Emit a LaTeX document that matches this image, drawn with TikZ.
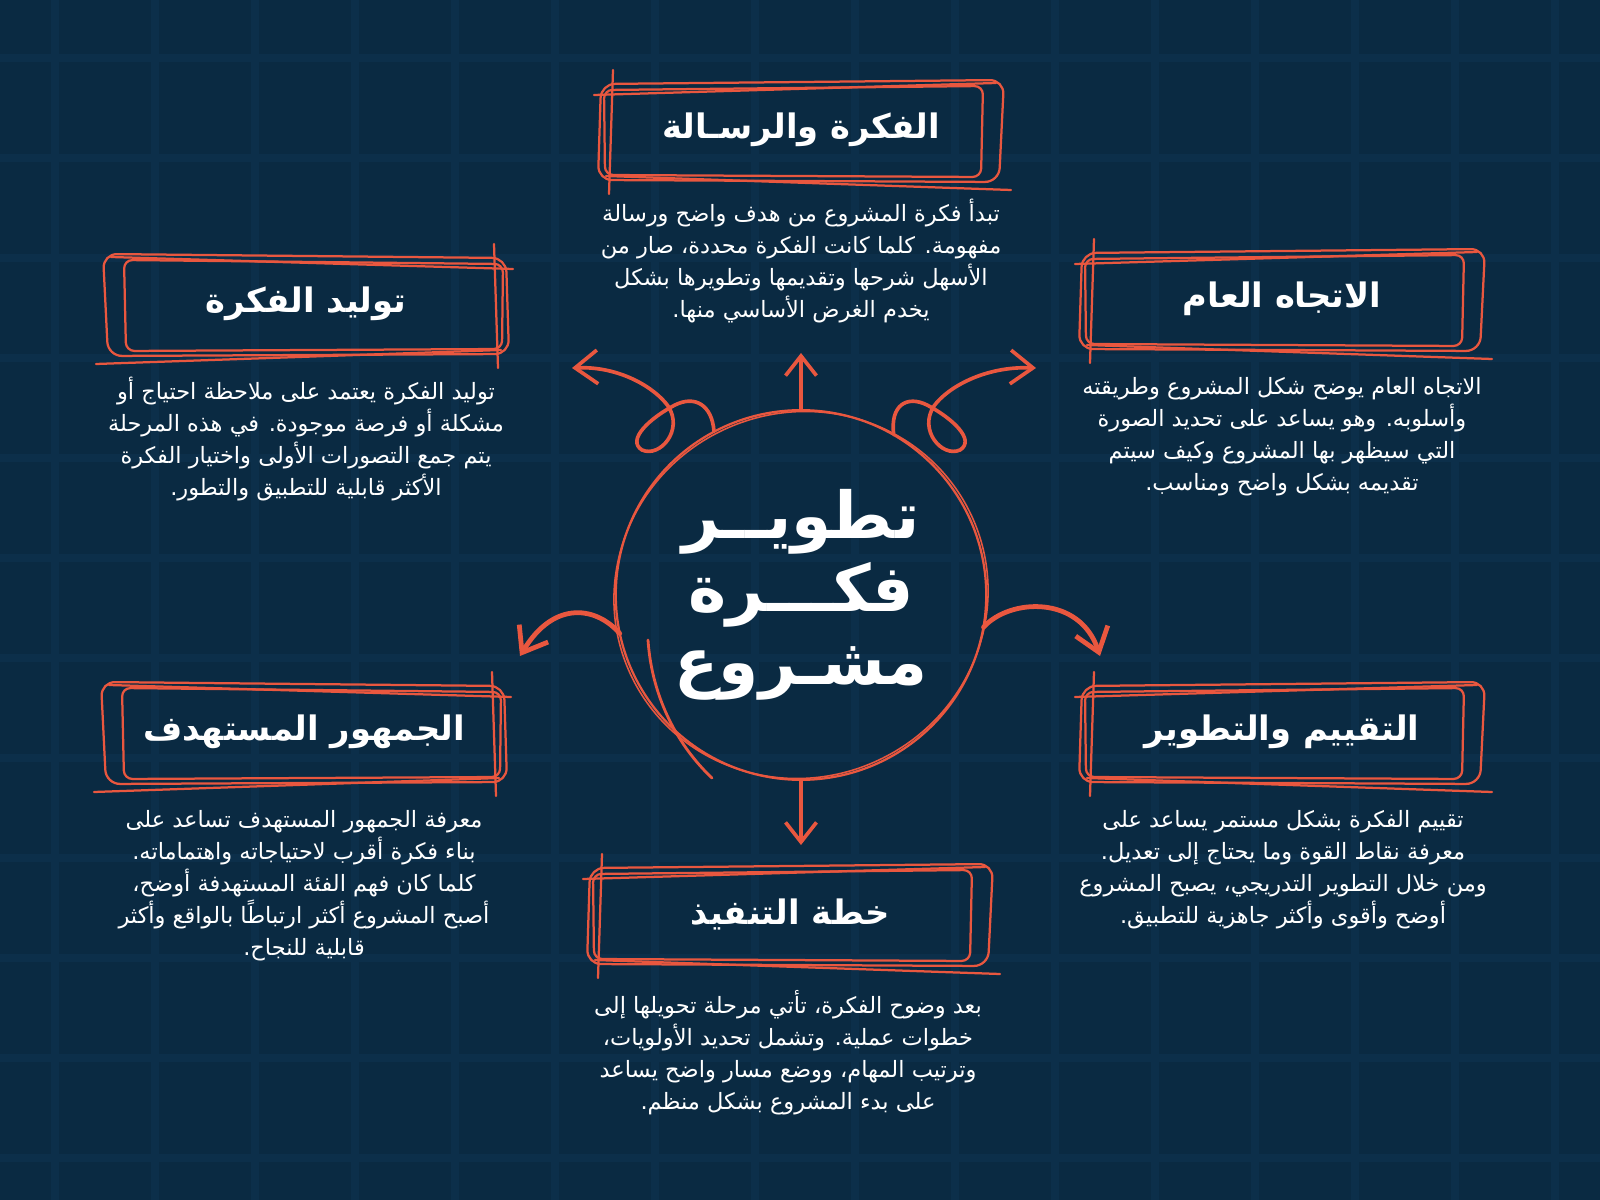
\documentclass[tikz,border=0pt]{standalone}
\usepackage{fontspec}
\newfontfamily\arabicfont[Script=Arabic]{DejaVu Sans}
\TeXXeTstate=1
\usetikzlibrary{arrows.meta}
\definecolor{navy}{HTML}{0A2A42}
\definecolor{gridline}{HTML}{0C2F4A}
\definecolor{coral}{HTML}{E9573F}
\newcommand{\ar}[1]{\beginR #1\endR}

\begin{document}
\begin{tikzpicture}[x=0.025cm,y=-0.025cm]
      \tikzstyle{hdr}=[text=white,font=\arabicfont\bfseries\fontsize{24}{28}\selectfont]
      \tikzstyle{body}=[text=white,align=center,anchor=north,inner sep=0pt,font=\arabicfont\fontsize{16}{22.8}\selectfont]
      \tikzstyle{hubnode}=[circle,minimum size=9.25cm,inner sep=0pt,text=white,align=center,font=\arabicfont\bfseries\fontsize{46}{52}\selectfont]
      \tikzstyle{sketch}=[draw=coral,line width=1.6pt,line cap=round,line join=round]
      \tikzstyle{curl}=[draw=coral,line width=2.6pt,line cap=round,-{Straight Barb[length=16pt,width=24pt]}]

      % background grid
      \useasboundingbox (0,0) rectangle (1600,1200);
      \fill[navy] (0,0) rectangle (1600,1200);
      \foreach \x in {55,155,...,1555} \draw[gridline,line width=5pt] (\x,0) -- (\x,1200);
      \foreach \y in {58,158,...,1158} \draw[gridline,line width=5pt] (0,\y) -- (1600,\y);

      % centre
      \node[hubnode](hub) at (801,595) {\ar{تطويــر}\\\ar{فكـــرة}\\\ar{مشـروع}};
      \draw[sketch] (hub.center) ellipse [x radius=4.63cm, y radius=4.62cm];
      \draw[sketch,line width=1.1pt,rotate around={25:(hub.center)}] (hub.center) ellipse [x radius=4.70cm, y radius=4.56cm];
      \draw[sketch,line width=2pt] (648,640) .. controls (652,700) and (680,748) .. (712,778);

      % headers
      \node[hdr](idea) at (801,130) {\ar{الفكرة والرسـالة}};
      \node[hdr](gen) at (306,304) {\ar{توليد الفكرة}};
      \node[hdr](dir) at (1282,299) {\ar{الاتجاه العام}};
      \node[hdr](aud) at (304,732) {\ar{الجمهور المستهدف}};
      \node[hdr](eval) at (1282,732) {\ar{التقييم والتطوير}};
      \node[hdr](plan) at (790,914) {\ar{خطة التنفيذ}};

      % sketchy frames
      \foreach \b/\f in {idea/-1,gen/1,dir/-1,aud/1,eval/-1,plan/-1}{
        \begin{scope}[shift={(\b)},xscale=\f]
          \draw[sketch,rounded corners=10] (-203,-50) -- (200,-46) -- (203,50) -- (-198,52) -- cycle;
          \draw[sketch,rounded corners=6] (-182,-44) -- (197,-40) -- (196,45) -- (-180,47) -- cycle;
          \draw[sketch] (-195,-47) -- (207,-35);
          \draw[sketch] (188,-60) -- (192,64);
          \draw[sketch] (-210,60) -- (195,46);
        \end{scope}
      }

      % texts
      \node[body](ideatxt) at (801,199) {\ar{تبدأ فكرة المشروع من هدف واضح ورسالة}\\\ar{مفهومة. كلما كانت الفكرة محددة، صار من}\\\ar{الأسهل شرحها وتقديمها وتطويرها بشكل}\\\ar{يخدم الغرض الأساسي منها.}};
      \node[body](gentxt) at (306,377) {\ar{توليد الفكرة يعتمد على ملاحظة احتياج أو}\\\ar{مشكلة أو فرصة موجودة. في هذه المرحلة}\\\ar{يتم جمع التصورات الأولى واختيار الفكرة}\\\ar{الأكثر قابلية للتطبيق والتطور.}};
      \node[body](dirtxt) at (1282,377) {\ar{الاتجاه العام يوضح شكل المشروع وطريقته}\\\ar{وأسلوبه. وهو يساعد على تحديد الصورة}\\\ar{التي سيظهر بها المشروع وكيف سيتم}\\\ar{تقديمه بشكل واضح ومناسب.}};
      \node[body](audtxt) at (304,810) {\ar{معرفة الجمهور المستهدف تساعد على}\\\ar{بناء فكرة أقرب لاحتياجاته واهتماماته.}\\\ar{كلما كان فهم الفئة المستهدفة أوضح،}\\\ar{أصبح المشروع أكثر ارتباطًا بالواقع وأكثر}\\\ar{قابلية للنجاح.}};
      \node[body](evaltxt) at (1283,810) {\ar{تقييم الفكرة بشكل مستمر يساعد على}\\\ar{معرفة نقاط القوة وما يحتاج إلى تعديل.}\\\ar{ومن خلال التطوير التدريجي، يصبح المشروع}\\\ar{أوضح وأقوى وأكثر جاهزية للتطبيق.}};
      \node[body](plantxt) at (788,990) {\ar{بعد وضوح الفكرة، تأتي مرحلة تحويلها إلى}\\\ar{خطوات عملية. وتشمل تحديد الأولويات،}\\\ar{وترتيب المهام، ووضع مسار واضح يساعد}\\\ar{على بدء المشروع بشكل منظم.}};

      % arrow ends
      \coordinate (tipUL) at (572,368);
      \coordinate (tipUR) at (1036,368);
      \coordinate (tipU) at (801,353);
      \coordinate (tipD) at (801,845);
      \coordinate (tipLL) at (520,656);
      \coordinate (tipLR) at (1100,656);

      % arrows
      \draw[curl] (hub.118) .. controls (712,405) and (695,395) .. (675,405)
        .. controls (650,418) and (626,440) .. (642,450)
        .. controls (660,458) and (684,430) .. (668,406)
        .. controls (655,388) and (620,366) .. (tipUL);
      \draw[curl] (hub.60) .. controls (890,405) and (907,395) .. (927,405)
        .. controls (952,418) and (976,440) .. (960,450)
        .. controls (942,458) and (918,430) .. (934,406)
        .. controls (947,388) and (984,366) .. (tipUR);
      \draw[curl,-{Straight Barb[length=14pt,width=22pt]}] (hub.north) -- (tipU);
      \draw[curl,-{Straight Barb[length=14pt,width=22pt]}] (hub.south) -- (tipD);
      \draw[curl,line width=3.4pt] (hub.192) .. controls (598,608) and (555,598) .. (tipLL);
      \draw[curl,line width=3.4pt] (hub.350) .. controls (1010,598) and (1080,595) .. (tipLR);
\end{tikzpicture}
\end{document}
